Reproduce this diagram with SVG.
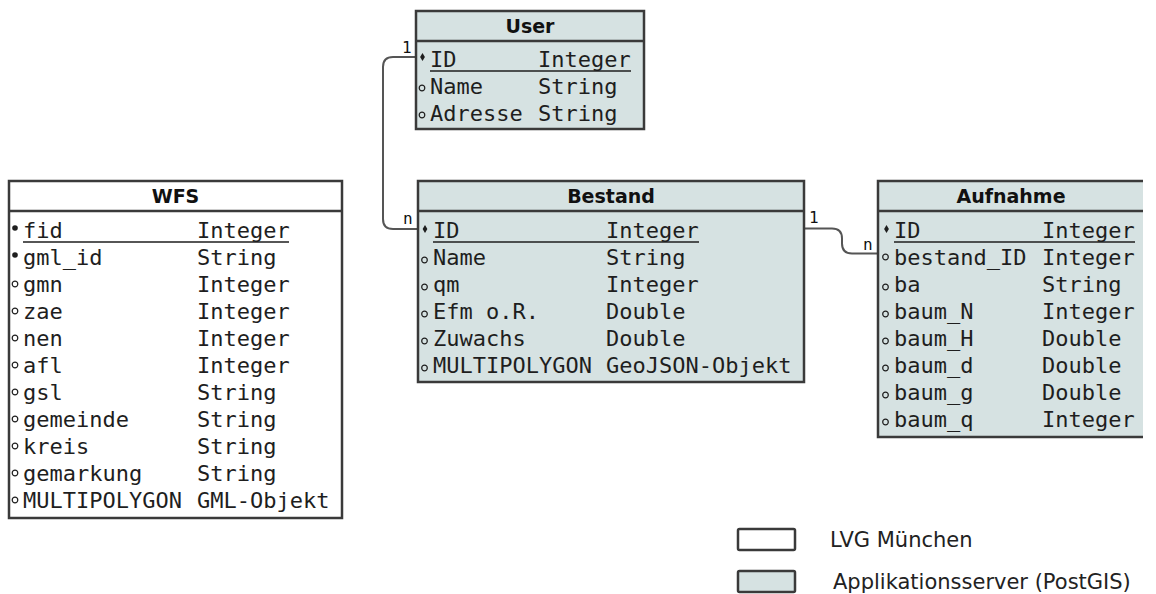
<svg xmlns="http://www.w3.org/2000/svg" width="1156" height="594" viewBox="0 0 1156 594">
  <style>
    .box { stroke: #3a3a3a; stroke-width: 2.5; }
    .wfs { fill: #ffffff; }
    .pg { fill: #d6e2e2; }
    .sep { stroke: #3a3a3a; stroke-width: 2.5; }
    .title { font-family: "DejaVu Sans", "Liberation Sans", sans-serif; font-weight: bold; font-size: 19px; fill: #111; text-anchor: middle; }
    .row { font-family: "DejaVu Sans Mono", "Liberation Mono", monospace; font-size: 22px; fill: #1e1e1e; }
    .pk { stroke: #1e1e1e; stroke-width: 1.6; }
    .hol { fill: none; stroke: #1e1e1e; stroke-width: 1.2; }
    .fil { fill: #1e1e1e; }
    .conn { fill: none; stroke: #555; stroke-width: 2; }
    .card { font-family: "DejaVu Sans Mono", "Liberation Mono", monospace; font-size: 16px; fill: #111; }
    .legend { font-family: "DejaVu Sans", "Liberation Sans", sans-serif; font-size: 21px; fill: #222; }
  </style>
  <defs>
    <path id="dia" d="M0,-4 L2.4,0 L0,4 L-2.4,0 Z" fill="#1e1e1e"/>
    <circle id="ring" r="2.8" class="hol"/>
    <circle id="dot" r="2.8" class="fil"/>
    <clipPath id="viewClip"><rect x="0" y="0" width="1143" height="594"/></clipPath>
  </defs>

  <!-- relationships -->
  <g id="connectors">
    <path class="conn" d="M416,57 H393 Q383,57 383,67 V219 Q383,229 393,229 H418"/>
    <text class="card" x="402" y="53">1</text>
    <text class="card" x="403" y="224">n</text>
    <path class="conn" d="M804,228.5 H832 Q842,228.5 842,238.5 V243.5 Q842,253.5 852,253.5 H878"/>
    <text class="card" x="809" y="223">1</text>
    <text class="card" x="863" y="250">n</text>
  </g>

  <!-- User -->
  <g id="user">
    <rect class="box pg" x="416" y="11" width="228" height="118"/>
    <line class="sep" x1="416" y1="41" x2="644" y2="41"/>
    <text class="title" x="530" y="33">User</text>
    <use href="#dia" x="422.5" y="57"/>
    <use href="#ring" x="422" y="88"/>
    <use href="#ring" x="422" y="115"/>
    <text class="row" x="430" y="67">ID</text><text class="row" x="538" y="67">Integer</text>
    <line class="pk" x1="430" y1="71" x2="631" y2="71"/>
    <text class="row" x="430" y="94">Name</text><text class="row" x="538" y="94">String</text>
    <text class="row" x="430" y="121">Adresse</text><text class="row" x="538" y="121">String</text>
  </g>

  <!-- WFS -->
  <g id="wfs">
    <rect class="box wfs" x="9" y="181" width="333" height="337"/>
    <line class="sep" x1="9" y1="211" x2="342" y2="211"/>
    <text class="title" x="175.5" y="203">WFS</text>
    <use href="#dot" x="15" y="228"/>
    <use href="#dot" x="15" y="255"/>
    <use href="#ring" x="15" y="284"/>
    <use href="#ring" x="15" y="311"/>
    <use href="#ring" x="15" y="338"/>
    <use href="#ring" x="15" y="365"/>
    <use href="#ring" x="15" y="392"/>
    <use href="#ring" x="15" y="419"/>
    <use href="#ring" x="15" y="446"/>
    <use href="#ring" x="15" y="473"/>
    <use href="#ring" x="15" y="500"/>
    <text class="row" x="23" y="238">fid</text><text class="row" x="197" y="238">Integer</text>
    <line class="pk" x1="23" y1="242" x2="289" y2="242"/>
    <text class="row" x="23" y="265">gml_id</text><text class="row" x="197" y="265">String</text>
    <text class="row" x="23" y="292">gmn</text><text class="row" x="197" y="292">Integer</text>
    <text class="row" x="23" y="319">zae</text><text class="row" x="197" y="319">Integer</text>
    <text class="row" x="23" y="346">nen</text><text class="row" x="197" y="346">Integer</text>
    <text class="row" x="23" y="373">afl</text><text class="row" x="197" y="373">Integer</text>
    <text class="row" x="23" y="400">gsl</text><text class="row" x="197" y="400">String</text>
    <text class="row" x="23" y="427">gemeinde</text><text class="row" x="197" y="427">String</text>
    <text class="row" x="23" y="454">kreis</text><text class="row" x="197" y="454">String</text>
    <text class="row" x="23" y="481">gemarkung</text><text class="row" x="197" y="481">String</text>
    <text class="row" x="23" y="508">MULTIPOLYGON</text><text class="row" x="197" y="508">GML-Objekt</text>
  </g>

  <!-- Bestand -->
  <g id="bestand">
    <rect class="box pg" x="418" y="181" width="386" height="201"/>
    <line class="sep" x1="418" y1="211" x2="804" y2="211"/>
    <text class="title" x="611" y="203">Bestand</text>
    <use href="#dia" x="425" y="229"/>
    <use href="#ring" x="424.5" y="260"/>
    <use href="#ring" x="424.5" y="287"/>
    <use href="#ring" x="424.5" y="314"/>
    <use href="#ring" x="424.5" y="341"/>
    <use href="#ring" x="424.5" y="368"/>
    <text class="row" x="433" y="238">ID</text><text class="row" x="606" y="238">Integer</text>
    <line class="pk" x1="433" y1="242" x2="699" y2="242"/>
    <text class="row" x="433" y="265">Name</text><text class="row" x="606" y="265">String</text>
    <text class="row" x="433" y="292">qm</text><text class="row" x="606" y="292">Integer</text>
    <text class="row" x="433" y="319">Efm o.R.</text><text class="row" x="606" y="319">Double</text>
    <text class="row" x="433" y="346">Zuwachs</text><text class="row" x="606" y="346">Double</text>
    <text class="row" x="433" y="373">MULTIPOLYGON</text><text class="row" x="606" y="373">GeoJSON-Objekt</text>
  </g>

  <!-- Aufnahme (runs off the right edge) -->
  <g id="aufnahme" clip-path="url(#viewClip)">
    <rect class="box pg" x="878" y="181" width="268" height="256"/>
    <line class="sep" x1="878" y1="211" x2="1146" y2="211"/>
    <text class="title" x="1011" y="203">Aufnahme</text>
    <use href="#dia" x="886.5" y="229"/>
    <use href="#ring" x="885.5" y="257"/>
    <use href="#ring" x="885.5" y="287"/>
    <use href="#ring" x="885.5" y="314"/>
    <use href="#ring" x="885.5" y="341"/>
    <use href="#ring" x="885.5" y="368"/>
    <use href="#ring" x="885.5" y="395"/>
    <use href="#ring" x="885.5" y="422"/>
    <text class="row" x="894" y="238">ID</text><text class="row" x="1042" y="238">Integer</text>
    <line class="pk" x1="894" y1="242" x2="1135" y2="242"/>
    <text class="row" x="894" y="265">bestand_ID</text><text class="row" x="1042" y="265">Integer</text>
    <text class="row" x="894" y="292">ba</text><text class="row" x="1042" y="292">String</text>
    <text class="row" x="894" y="319">baum_N</text><text class="row" x="1042" y="319">Integer</text>
    <text class="row" x="894" y="346">baum_H</text><text class="row" x="1042" y="346">Double</text>
    <text class="row" x="894" y="373">baum_d</text><text class="row" x="1042" y="373">Double</text>
    <text class="row" x="894" y="400">baum_g</text><text class="row" x="1042" y="400">Double</text>
    <text class="row" x="894" y="427">baum_q</text><text class="row" x="1042" y="427">Integer</text>
  </g>

  <!-- legend -->
  <g id="legend">
    <rect class="box wfs" x="738" y="529" width="57" height="21" rx="1.5" stroke-width="2"/>
    <text class="legend" x="830" y="547">LVG München</text>
    <rect class="box pg" x="738" y="571" width="57" height="21" rx="1.5" stroke-width="2"/>
    <text class="legend" x="833" y="589">Applikationsserver (PostGIS)</text>
  </g>
</svg>
